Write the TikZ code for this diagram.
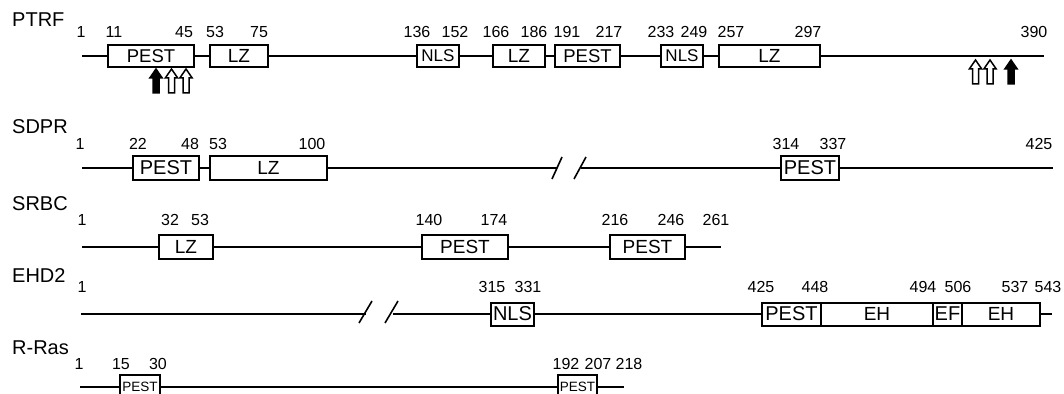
\documentclass[tikz,border=0pt]{standalone}
\usepackage{fontspec}
\setmainfont{Liberation Sans}
\newcommand{\dombox}[7]{\node[dom, minimum width={#3-#2}, minimum height=#5, font=\fontsize{#6}{#6}\selectfont] (#1) at (#2,#4) {#7};}
\newcommand{\numlab}[4]{\node[num] (#1-#4) at (#2,#3) {#4};}
\begin{document}
\begin{tikzpicture}[x=1pt,y=-1pt,
  bb/.style={line width=1.6pt},
  dom/.style={draw, line width=2pt, inner sep=0pt, anchor=west, fill=white},
  num/.style={inner sep=0pt, font=\fontsize{16}{16}\selectfont},
  rowlab/.style={inner sep=0pt, anchor=west, font=\fontsize{20}{20}\selectfont},
  brk/.style={line width=1.6pt},
  openarr/.style={draw=black, fill=white, line width=1.5pt},
  fullarr/.style={draw=black, fill=black, line width=1.5pt},
  blockup/.pic={\path[pic actions] (0,0) -- (6.2,9) -- (3,9) -- (3,24) -- (-3,24) -- (-3,9) -- (-6.2,9) -- cycle;}
]
\useasboundingbox[fill=white] (0,0) rectangle (1064,393);

% ---------------- PTRF ----------------
\node[rowlab] (lptrf) at (12,20) {PTRF};
\coordinate (p0) at (82,56);
\coordinate (p9) at (1044,56);
\dombox{pa}{107}{193}{56}{22}{18.5}{PEST}
\dombox{pb}{209}{267}{56}{22}{19}{LZ}
\dombox{pc}{416}{458}{56}{22}{17}{NLS}
\dombox{pd}{492}{544}{56}{22}{19}{LZ}
\dombox{pe}{554}{619}{56}{22}{18.5}{PEST}
\dombox{pf}{660}{702}{56}{22}{17}{NLS}
\dombox{pg}{718}{819}{56}{22}{19}{LZ}
\draw[bb] (p0) -- (pa.west) (pa.east) -- (pb.west) (pb.east) -- (pc.west)
  (pc.east) -- (pd.west) (pd.east) -- (pe.west) (pe.east) -- (pf.west)
  (pf.east) -- (pg.west) (pg.east) -- (p9);
\numlab{ptrf}{81}{32}{1}
\numlab{ptrf}{114}{32}{11}
\numlab{ptrf}{184}{32}{45}
\numlab{ptrf}{215}{32}{53}
\numlab{ptrf}{259}{32}{75}
\numlab{ptrf}{417}{32}{136}
\numlab{ptrf}{455}{32}{152}
\numlab{ptrf}{496}{32}{166}
\numlab{ptrf}{534}{32}{186}
\numlab{ptrf}{567}{32}{191}
\numlab{ptrf}{609}{32}{217}
\numlab{ptrf}{661}{32}{233}
\numlab{ptrf}{694}{32}{249}
\numlab{ptrf}{731}{32}{257}
\numlab{ptrf}{808}{32}{297}
\numlab{ptrf}{1034}{32}{390}
\pic[fullarr] at (156,69) {blockup};
\pic[openarr] at (171.5,69) {blockup};
\pic[openarr] at (186,69) {blockup};
\pic[openarr] at (975.5,60) {blockup};
\pic[openarr] at (990,60) {blockup};
\pic[fullarr] at (1011,60) {blockup};

% ---------------- SDPR ----------------
\node[rowlab] (lsdpr) at (12,127) {SDPR};
\coordinate (s0) at (82,168);
\coordinate (s9) at (1053,168);
\coordinate (sb1) at (557,168);
\coordinate (sb2) at (581,168);
\dombox{sa}{132}{198}{168}{24}{20}{PEST}
\dombox{sb}{209}{326}{168}{24}{19}{LZ}
\dombox{sc}{780}{838}{168}{24}{20}{PEST}
\draw[bb] (s0) -- (sa.west) (sa.east) -- (sb.west) (sb.east) -- (sb1)
  (sb2) -- (sc.west) (sc.east) -- (s9);
\draw[brk] (552,179) -- (562,157) (574,179) -- (586,157);
\numlab{sdpr}{80}{144}{1}
\numlab{sdpr}{138}{144}{22}
\numlab{sdpr}{190}{144}{48}
\numlab{sdpr}{218}{144}{53}
\numlab{sdpr}{312}{144}{100}
\numlab{sdpr}{786}{144}{314}
\numlab{sdpr}{833}{144}{337}
\numlab{sdpr}{1039}{144}{425}

% ---------------- SRBC ----------------
\node[rowlab] (lsrbc) at (12,204) {SRBC};
\coordinate (r0) at (82,247);
\coordinate (r9) at (721,247);
\dombox{ra}{158}{212}{247}{24}{19}{LZ}
\dombox{rb}{421}{507}{247}{24}{19}{PEST}
\dombox{rc}{609}{684}{247}{24}{19}{PEST}
\draw[bb] (r0) -- (ra.west) (ra.east) -- (rb.west) (rb.east) -- (rc.west)
  (rc.east) -- (r9);
\numlab{srbc}{82}{220}{1}
\numlab{srbc}{170}{220}{32}
\numlab{srbc}{200}{220}{53}
\numlab{srbc}{429}{220}{140}
\numlab{srbc}{494}{220}{174}
\numlab{srbc}{615}{220}{216}
\numlab{srbc}{671}{220}{246}
\numlab{srbc}{716}{220}{261}

% ---------------- EHD2 ----------------
\node[rowlab] (lehd) at (12,276) {EHD2};
\coordinate (e0) at (81,314);
\coordinate (e9) at (1052,314);
\coordinate (eb1) at (366,314);
\coordinate (eb2) at (393,314);
\dombox{ea}{490}{533}{314}{23}{20}{NLS}
\dombox{eb}{761}{820}{314}{23}{20}{PEST}
\dombox{ec}{820}{932}{314}{23}{19}{EH}
\dombox{ed}{932}{961}{314}{23}{20}{EF}
\dombox{ee}{961}{1039}{314}{23}{19}{EH}
\draw[bb] (e0) -- (eb1) (eb2) -- (ea.west) (ea.east) -- (eb.west) (ee.east) -- (e9);
\draw[brk] (359,323) -- (372,301) (385,323) -- (398,301);
\numlab{ehd}{82}{287}{1}
\numlab{ehd}{492}{287}{315}
\numlab{ehd}{528}{287}{331}
\numlab{ehd}{761}{287}{425}
\numlab{ehd}{815}{287}{448}
\numlab{ehd}{923}{287}{494}
\numlab{ehd}{958}{287}{506}
\numlab{ehd}{1015}{287}{537}
\numlab{ehd}{1048}{287}{543}

% ---------------- R-Ras ----------------
\node[rowlab] (lrras) at (12,348) {R-Ras};
\coordinate (q0) at (80,387);
\coordinate (q9) at (624,387);
\dombox{qa}{119}{159}{387}{24}{13.5}{PEST}
\dombox{qb}{557}{596}{387}{24}{13.5}{PEST}
\draw[line width=2.3pt] (q0) -- (qa.west) (qa.east) -- (qb.west) (qb.east) -- (q9);
\numlab{rras}{79}{364}{1}
\numlab{rras}{121}{364}{15}
\numlab{rras}{158}{364}{30}
\numlab{rras}{566}{364}{192}
\numlab{rras}{598}{364}{207}
\numlab{rras}{629}{364}{218}
\end{tikzpicture}
\end{document}
